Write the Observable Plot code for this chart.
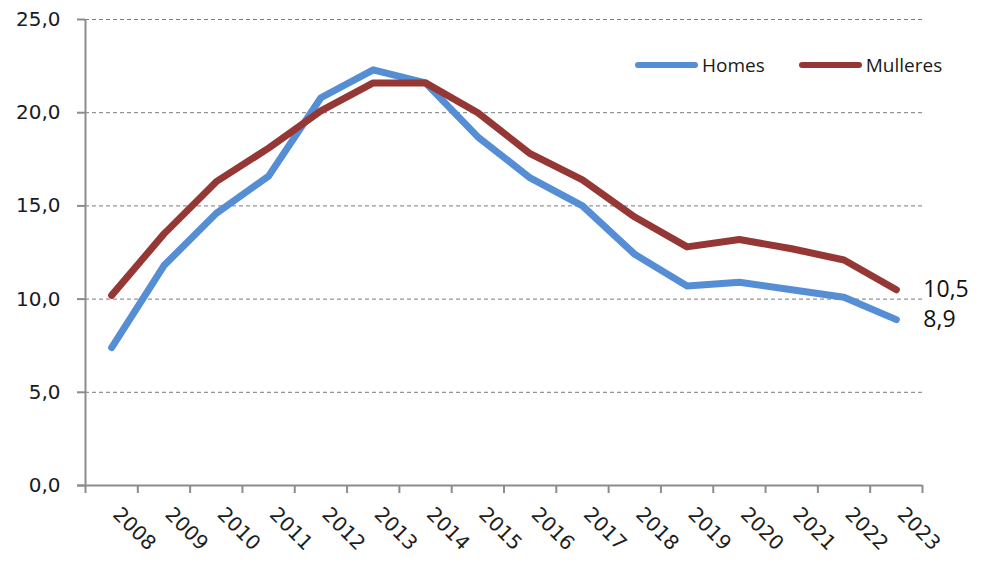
<!DOCTYPE html>
<html>
<head>
<meta charset="utf-8">
<script src="https://cdn.jsdelivr.net/npm/d3@7"></script>
<script src="https://cdn.jsdelivr.net/npm/@observablehq/plot@0.6"></script>
<style>
  html, body { margin: 0; padding: 0; background: #fff; }
  #wrap { position: relative; width: 981px; height: 562px; }
  .legend { position: absolute; top: 52px; left: 635px; display: flex; align-items: center;
            font-family: "Open Sans", sans-serif; font-size: 19px; color: #1a1a1a; }
  .legend .item { display: flex; align-items: center; }
  .legend .sw { width: 63px; height: 6px; border-radius: 3px; margin-right: 4px; }
</style>
</head>
<body>
<div id="wrap"></div>
<script>
const years = [2008, 2009, 2010, 2011, 2012, 2013, 2014, 2015, 2016, 2017, 2018, 2019, 2020, 2021, 2022, 2023];
const homes = [7.4, 11.8, 14.6, 16.6, 20.8, 22.3, 21.6, 18.7, 16.5, 15.0, 12.4, 10.7, 10.9, 10.5, 10.1, 8.9];
const mulleres = [10.2, 13.5, 16.3, 18.1, 20.1, 21.6, 21.6, 20.0, 17.8, 16.4, 14.4, 12.8, 13.2, 12.7, 12.1, 10.5];
const seriesNames = ["Homes", "Mulleres"];
const seriesColors = ["#558ED5", "#953735"];
const yTicks = [0, 5, 10, 15, 20, 25];

const data = [];
years.forEach((y, i) => {
  data.push({year: y, value: homes[i], serie: "Homes"});
  data.push({year: y, value: mulleres[i], serie: "Mulleres"});
});
const lastYear = years[years.length - 1];
const endLabels = data.filter(d => d.year === lastYear);
const bounds = [...years.map(y => y - 0.5), lastYear + 0.5];
const fmt = v => v.toFixed(1).replace(".", ",");

const chart = Plot.plot({
  width: 981,
  height: 562,
  marginLeft: 85,
  marginRight: 59,
  marginTop: 19,
  marginBottom: 77,
  style: {fontFamily: "DejaVu Sans, sans-serif", fontSize: "20px", background: "#fff"},
  x: {domain: [years[0] - 0.5, lastYear + 0.5], axis: null, label: null},
  y: {domain: [0, 25], axis: null, label: null},
  color: {domain: seriesNames, range: seriesColors},
  marks: [
    Plot.gridY(yTicks.filter(t => t > 0), {stroke: "#7a7a7a", strokeOpacity: 1, strokeDasharray: "4,3", strokeWidth: 1}),
    Plot.axisY(yTicks, {tickSize: 8, tickPadding: 17, tickFormat: fmt, stroke: "#8c8c8c", strokeWidth: 2, fill: "#1a1a24", fontSize: 20, label: null}),
    Plot.axisX(bounds, {tickSize: 8, tickFormat: () => "", stroke: "#8c8c8c", strokeWidth: 2, label: null}),
    Plot.ruleX([bounds[0]], {y1: 0, y2: 25, stroke: "#8c8c8c", strokeWidth: 2}),
    Plot.ruleY([0], {x1: bounds[0], x2: bounds[bounds.length - 1], stroke: "#8c8c8c", strokeWidth: 2, insetLeft: -8}),
    Plot.text(years, {x: d => d, frameAnchor: "bottom", dy: 30, rotate: 45, textAnchor: "start", fontSize: 20, fill: "#1e1e1e", text: d => String(d)}),
    Plot.line(data, {x: "year", y: "value", z: "serie", stroke: "serie", strokeWidth: 7, strokeLinejoin: "round", strokeLinecap: "round"}),
    Plot.text(endLabels, {x: "year", y: "value", text: d => fmt(d.value), dx: 27, textAnchor: "start", fontFamily: "Open Sans, sans-serif", fontSize: 23, fill: "#111"})
  ]
});

const wrap = document.getElementById("wrap");
wrap.appendChild(chart);
const legend = document.createElement("div");
legend.className = "legend";
seriesNames.forEach((name, i) => {
  const item = document.createElement("div");
  item.className = "item";
  if (i > 0) item.style.marginLeft = "34px";
  const sw = document.createElement("div");
  sw.className = "sw";
  sw.style.background = seriesColors[i];
  const lab = document.createElement("span");
  lab.textContent = name;
  item.appendChild(sw);
  item.appendChild(lab);
  legend.appendChild(item);
});
wrap.appendChild(legend);
</script>
</body>
</html>
